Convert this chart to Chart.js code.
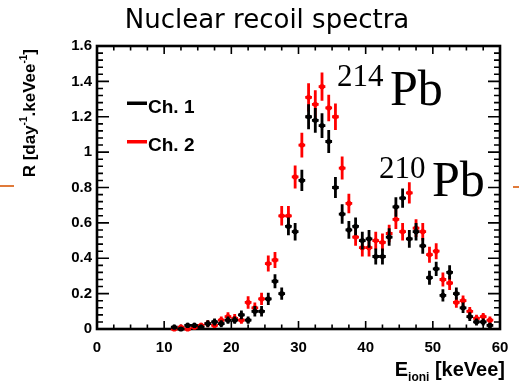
<!DOCTYPE html>
<html>
<head>
<meta charset="utf-8">
<script src="https://cdn.jsdelivr.net/npm/chart.js@4/dist/chart.umd.min.js"></script>
<style>
  html, body { margin: 0; padding: 0; background: #fff; }
</style>
</head>
<body>
<canvas id="myChart" width="519" height="384"></canvas>
<script>
// bin centres [keVee]
const energy = [11.5, 12.5, 13.5, 14.5, 15.5, 16.5, 17.5, 18.5, 19.5, 20.5,
                21.5, 22.5, 23.5, 24.5, 25.5, 26.5, 27.5, 28.5, 29.5, 30.5,
                31.5, 32.5, 33.5, 34.5, 35.5, 36.5, 37.5, 38.5, 39.5, 40.5,
                41.5, 42.5, 43.5, 44.5, 45.5, 46.5, 47.5, 48.5, 49.5, 50.5,
                51.5, 52.5, 53.5, 54.5, 55.5, 56.5, 57.5, 58.5];

// rate R [day-1 keVee-1]
const ch1 = [0.01, 0.00, 0.02, 0.02, 0.01, 0.03, 0.04, 0.03, 0.05, 0.05,
             0.08, 0.05, 0.10, 0.10, 0.17, 0.27, 0.20, 0.58, 0.55, 0.84,
             1.20, 1.18, 1.15, 1.06, 0.80, 0.65, 0.56, 0.58, 0.50, 0.51,
             0.41, 0.41, 0.52, 0.69, 0.74, 0.51, 0.55, 0.47, 0.29, 0.34,
             0.19, 0.32, 0.20, 0.12, 0.07, 0.04, 0.04, 0.02];
const ch1Err = [0.015, 0.01, 0.015, 0.015, 0.015, 0.02, 0.02, 0.02, 0.02, 0.02,
                0.025, 0.02, 0.03, 0.03, 0.035, 0.04, 0.035, 0.05, 0.05, 0.06,
                0.07, 0.07, 0.07, 0.065, 0.06, 0.055, 0.05, 0.05, 0.05, 0.05,
                0.045, 0.045, 0.05, 0.055, 0.055, 0.05, 0.05, 0.045, 0.04, 0.04,
                0.035, 0.04, 0.035, 0.03, 0.025, 0.02, 0.02, 0.015];

const ch2 = [0.00, 0.01, 0.00, 0.01, 0.02, 0.03, 0.02, 0.05, 0.07, 0.06,
             0.05, 0.15, 0.12, 0.17, 0.37, 0.39, 0.64, 0.64, 0.86, 1.04,
             1.31, 1.27, 1.37, 1.25, 1.20, 0.91, 0.71, 0.52, 0.46, 0.46,
             0.50, 0.49, 0.54, 0.62, 0.55, 0.77, 0.57, 0.55, 0.42, 0.44,
             0.28, 0.26, 0.15, 0.16, 0.10, 0.06, 0.07, 0.05];
const ch2Err = [0.01, 0.015, 0.01, 0.015, 0.015, 0.02, 0.015, 0.02, 0.025, 0.025,
                0.02, 0.035, 0.03, 0.035, 0.045, 0.045, 0.055, 0.055, 0.065, 0.07,
                0.08, 0.08, 0.08, 0.075, 0.075, 0.065, 0.055, 0.05, 0.05, 0.05,
                0.05, 0.05, 0.05, 0.055, 0.05, 0.06, 0.05, 0.05, 0.045, 0.045,
                0.04, 0.04, 0.03, 0.03, 0.025, 0.02, 0.02, 0.02];

const xTicks = [0, 10, 20, 30, 40, 50, 60];
const yTicks = [0, 0.2, 0.4, 0.6, 0.8, 1, 1.2, 1.4, 1.6];

const RED = '#ff0000';
const BLACK = '#000000';
const SANS = '"Liberation Sans", Arial, sans-serif';
const SERIF = '"Liberation Serif", "Times New Roman", serif';

function points(vals) {
    return energy.map((e, i) => ({ x: e, y: vals[i] }));
}

// vertical + horizontal error bars, drawn just before each dataset's markers
const errorBars = {
    id: 'errorBars',
    beforeDatasetDraw(chart, args) {
        const ds = chart.data.datasets[args.index];
        const xs = chart.scales.x, ys = chart.scales.y;
        const c = chart.ctx;
        c.save();
        c.strokeStyle = ds.borderColor;
        c.lineWidth = 2.8;
        ds.data.forEach((p, i) => {
            const e = ds.errors[i];
            const px = xs.getPixelForValue(p.x);
            const py = ys.getPixelForValue(p.y);
            c.beginPath();
            c.moveTo(px, ys.getPixelForValue(Math.max(0, p.y - e)));
            c.lineTo(px, ys.getPixelForValue(p.y + e));
            c.moveTo(xs.getPixelForValue(p.x - 0.5), py);
            c.lineTo(xs.getPixelForValue(p.x + 0.5), py);
            c.stroke();
        });
        c.restore();
    }
};

// ROOT style frame with inward ticks on all four sides
const frame = {
    id: 'frame',
    beforeDatasetsDraw(chart) {
        const c = chart.ctx;
        const a = chart.chartArea;
        const xs = chart.scales.x, ys = chart.scales.y;
        c.save();
        c.strokeStyle = '#000';
        c.lineWidth = 1.6;
        c.beginPath();
        for (let v = 0; v <= 60.001; v += 2.5) {
            const px = xs.getPixelForValue(v);
            const len = Math.abs(v % 10) < 0.01 ? 8 : 4.5;
            c.moveTo(px, a.bottom); c.lineTo(px, a.bottom - len);
            c.moveTo(px, a.top); c.lineTo(px, a.top + len);
        }
        for (let k = 0; k <= 40; k++) {
            const py = ys.getPixelForValue(k * 0.04);
            const len = k % 5 === 0 ? 12 : 6;
            c.moveTo(a.left, py); c.lineTo(a.left + len, py);
            c.moveTo(a.right, py); c.lineTo(a.right - len, py);
        }
        c.stroke();
        c.lineWidth = 2.6;
        c.strokeRect(a.left, a.top, a.right - a.left, a.bottom - a.top);
        c.restore();
    }
};

// draws a run of text pieces (font, vertical shift) left to right
function drawRich(c, x, y, parts) {
    parts.forEach(p => {
        c.font = p.font;
        c.fillText(p.t, x, y + (p.dy || 0));
        x += c.measureText(p.t).width;
    });
}
function richWidth(c, parts) {
    let w = 0;
    parts.forEach(p => { c.font = p.font; w += c.measureText(p.t).width; });
    return w;
}

const decorations = {
    id: 'decorations',
    afterDraw(chart) {
        const c = chart.ctx;
        c.save();
        c.fillStyle = '#000';
        c.textBaseline = 'alphabetic';

        // title
        c.textAlign = 'center';
        c.font = '26px "DejaVu Sans", Verdana, sans-serif';
        c.fillText('Nuclear recoil spectra', 267, 28);
        c.textAlign = 'left';

        // legend
        c.fillStyle = BLACK;
        c.fillRect(127, 101.5, 20, 3.5);
        c.fillStyle = RED;
        c.fillRect(127, 140, 20, 3.5);
        c.fillStyle = '#000';
        c.font = 'bold 19px ' + SANS;
        c.fillText('Ch. 1', 148, 113);
        c.fillText('Ch. 2', 148, 151);

        // x axis title
        const xParts = [
            { t: 'E', font: 'bold 20px ' + SANS },
            { t: 'ioni', font: 'bold 12px ' + SANS, dy: 5 },
            { t: ' [keVee]', font: 'bold 20px ' + SANS }
        ];
        drawRich(c, 505 - richWidth(c, xParts), 376, xParts);

        // y axis title (rotated)
        const yParts = [
            { t: 'R [day', font: 'bold 17px ' + SANS },
            { t: '-1', font: 'bold 10px ' + SANS, dy: -8 },
            { t: '.keVee', font: 'bold 17px ' + SANS },
            { t: '-1', font: 'bold 10px ' + SANS, dy: -8 },
            { t: ']', font: 'bold 17px ' + SANS }
        ];
        const yw = richWidth(c, yParts);
        c.save();
        c.translate(35, 49 + yw);
        c.rotate(-Math.PI / 2);
        drawRich(c, 0, 0, yParts);
        c.restore();

        // peak labels
        c.font = '31px ' + SERIF;
        c.fillText('214', 337, 86);
        c.font = '50px ' + SERIF;
        c.fillText('Pb', 390, 105);
        c.font = '31px ' + SERIF;
        c.fillText('210', 379, 178);
        c.font = '50px ' + SERIF;
        c.fillText('Pb', 432, 196);

        // slide decoration
        c.strokeStyle = '#e07a3a';
        c.lineWidth = 2;
        c.beginPath();
        c.moveTo(0, 186); c.lineTo(14, 186);
        c.moveTo(513, 187); c.lineTo(519, 187);
        c.stroke();
        c.restore();
    }
};

const ctx = document.getElementById('myChart').getContext('2d');
const myChart = new Chart(ctx, {
    type: 'scatter',
    data: {
        datasets: [{
            label: 'Ch. 1',
            data: points(ch1),
            errors: ch1Err,
            borderColor: BLACK,
            backgroundColor: BLACK,
            pointRadius: 2.6,
            pointBorderWidth: 0
        }, {
            label: 'Ch. 2',
            data: points(ch2),
            errors: ch2Err,
            borderColor: RED,
            backgroundColor: RED,
            pointRadius: 2.6,
            pointBorderWidth: 0
        }]
    },
    options: {
        responsive: false,
        animation: false,
        clip: false,
        layout: { padding: { top: 46, right: 19, bottom: 0, left: 0 } },
        plugins: {
            legend: { display: false },
            tooltip: { enabled: false },
            title: { display: false }
        },
        scales: {
            x: {
                type: 'linear',
                min: 0,
                max: 60,
                afterFit: s => { s.height = 55; },
                afterBuildTicks: s => { s.ticks = xTicks.map(v => ({ value: v })); },
                grid: { display: false, drawTicks: false },
                border: { display: false },
                ticks: {
                    color: '#000',
                    padding: 10,
                    maxRotation: 0,
                    font: { family: SANS, size: 15, weight: 'bold' }
                }
            },
            y: {
                type: 'linear',
                min: 0,
                max: 1.6,
                afterFit: s => { s.width = 97; },
                afterBuildTicks: s => { s.ticks = yTicks.map(v => ({ value: v })); },
                grid: { display: false, drawTicks: false },
                border: { display: false },
                ticks: {
                    color: '#000',
                    padding: 5,
                    font: { family: SANS, size: 15, weight: 'bold' },
                    callback: v => String(Number(v.toFixed(1)))
                }
            }
        }
    },
    plugins: [frame, errorBars, decorations]
});
</script>
</body>
</html>
